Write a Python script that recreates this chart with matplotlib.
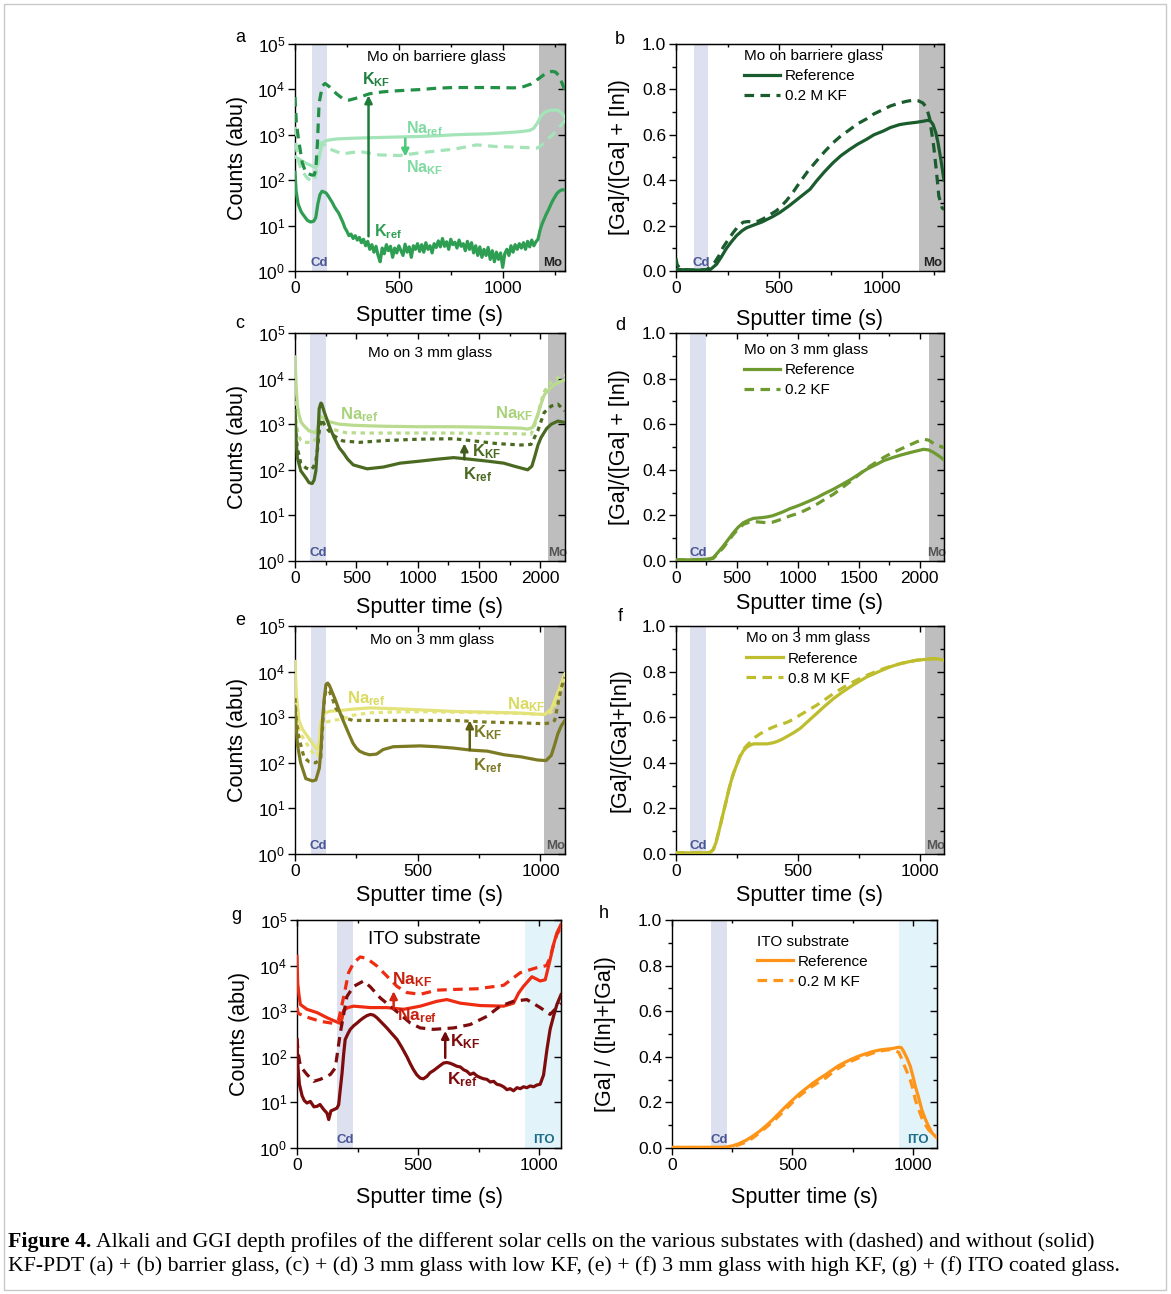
import numpy as np
import matplotlib
matplotlib.use('Agg')
import matplotlib.pyplot as plt
from matplotlib.ticker import MultipleLocator, LogLocator, NullLocator, NullFormatter, LogFormatterMathtext, FormatStrFormatter
from matplotlib.lines import Line2D
from matplotlib.patches import Rectangle
import matplotlib.transforms as mtransforms

plt.rcParams['font.family'] = ['Liberation Sans', 'DejaVu Sans']
plt.rcParams['mathtext.fontset'] = 'custom'
plt.rcParams['mathtext.rm'] = 'Liberation Sans'
plt.rcParams['mathtext.bf'] = 'Liberation Sans:bold'
plt.rcParams['mathtext.it'] = 'Liberation Sans:italic'
plt.rcParams['mathtext.default'] = 'regular'

# ---------------- data: panel a (Mo on barrier glass, SIMS) ----------------
a_t_kkf = [0, 6, 16, 35, 53, 80, 92, 100, 108, 116, 132, 145, 165, 200, 229, 260, 300, 358, 420, 471, 540, 600, 680, 762, 840, 924, 1000, 1053, 1100, 1134, 1160, 1182, 1210, 1238, 1255, 1271, 1285, 1300]
a_kkf = [6800, 2000, 850, 240, 145, 130, 130, 170, 650, 5000, 12000, 13500, 11500, 8000, 6300, 5800, 6500, 8000, 8800, 9200, 9600, 9900, 10600, 11000, 11000, 11000, 10900, 10800, 11500, 13000, 15500, 18500, 23000, 25000, 24000, 20000, 14000, 9500]
a_t_naref = [0, 20, 50, 84, 100, 110, 120, 132, 150, 200, 278, 350, 439, 520, 600, 700, 762, 850, 924, 1000, 1085, 1130, 1150, 1170, 1182, 1200, 1231, 1264, 1285, 1300]
a_naref = [330, 290, 240, 203, 190, 220, 400, 660, 750, 810, 840, 860, 880, 900, 920, 960, 1000, 1030, 1050, 1100, 1170, 1250, 1400, 1900, 2500, 3100, 3500, 3500, 3000, 2400]
a_t_nakf = [0, 5, 15, 30, 60, 84, 95, 105, 115, 124, 140, 170, 229, 310, 407, 504, 600, 700, 762, 875, 972, 1085, 1166, 1190, 1214, 1240, 1264, 1285, 1300]
a_nakf = [1500, 600, 280, 170, 110, 95, 100, 180, 450, 660, 600, 480, 380, 430, 360, 350, 400, 450, 480, 600, 550, 530, 510, 600, 780, 1000, 1300, 1700, 2100]
a_t_kref = [0, 5, 15, 30, 45, 60, 75, 90, 100, 110, 120, 130, 140, 150, 160, 170, 180, 190, 200, 210, 220, 230, 240, 250,
            260, 270, 280, 290, 300, 310, 320, 330, 340, 350, 360, 370, 380, 390, 400, 410, 420, 430, 440, 450, 460, 470,
            480, 490, 500, 510, 520, 530, 540, 550, 560, 570, 580, 590, 600, 610, 620, 630, 640, 650, 660, 670, 680, 690,
            700, 710, 720, 730, 740, 750, 760, 770, 780, 790, 800, 810, 820, 830, 840, 850, 860, 870, 880, 890, 900, 910,
            920, 930, 940, 950, 960, 970, 980, 990, 1000, 1010, 1020, 1030, 1040, 1050, 1060, 1070, 1080, 1090, 1100, 1110,
            1120, 1130, 1140, 1150, 1160, 1170, 1180, 1190, 1200, 1210, 1220, 1230, 1240, 1250, 1260, 1270, 1280, 1290, 1300]
a_kref = [150, 60, 30, 20, 16, 13, 12, 12.5, 15, 30, 48, 57, 55, 52, 45, 38, 32, 26, 22, 19, 15, 12, 9, 7.5,
          6.0, 6.5, 5.2, 6.0, 4.8, 5.5, 4.2, 5.0, 3.6, 4.5, 3.0, 3.8, 2.6, 3.5, 2.2, 1.6, 3.2, 2.4, 3.8, 2.8, 3.5, 2.0,
          3.2, 2.5, 3.6, 2.8, 2.2, 3.9, 2.6, 3.4, 2.0, 3.6, 3.0, 4.0, 2.7, 3.8, 2.6, 4.2, 3.0, 3.6, 2.5, 4.0, 3.3, 4.6,
          3.4, 5.2, 3.5, 4.4, 3.0, 5.0, 3.8, 4.3, 3.2, 4.8, 3.5, 4.0, 2.8, 4.5, 3.0, 4.2, 2.5, 3.6, 2.2, 3.4, 2.0, 3.0,
          2.2, 3.3, 1.8, 2.8, 1.6, 2.6, 1.8, 2.5, 1.2, 2.4, 3.0, 2.2, 3.6, 2.6, 3.8, 3.0, 4.0, 3.2, 4.2, 3.0,
          4.5, 3.4, 4.8, 3.6, 4.4, 5.0, 8, 11, 14, 18, 22, 28, 35, 42, 50, 56, 60, 62, 60]

# ---------------- panel b (GGI, barrier glass) ----------------
b_t_ref = [0, 50, 100, 165, 197, 220, 245, 270, 294, 320, 342, 370, 391, 420, 439, 470, 504, 550, 600, 650, 682, 720, 762, 800, 843, 880, 924, 960, 1004, 1040, 1085, 1120, 1166, 1200, 1222, 1235, 1247, 1260, 1271, 1285, 1300]
b_ref = [0.007, 0.005, 0.004, 0.005, 0.03, 0.062, 0.10, 0.13, 0.156, 0.177, 0.19, 0.2, 0.207, 0.217, 0.226, 0.24, 0.258, 0.288, 0.324, 0.36, 0.397, 0.437, 0.477, 0.508, 0.536, 0.558, 0.58, 0.6, 0.616, 0.632, 0.645, 0.65, 0.655, 0.66, 0.664, 0.66, 0.645, 0.61, 0.565, 0.49, 0.40]
b_t_kf = [0, 5, 15, 30, 60, 100, 150, 189, 210, 229, 255, 278, 300, 326, 350, 375, 400, 423, 450, 488, 510, 536, 570, 600, 640, 682, 720, 762, 800, 843, 880, 924, 960, 1004, 1040, 1085, 1120, 1150, 1175, 1198, 1215, 1230, 1250, 1262, 1275, 1290, 1300]
b_kf = [0.055, 0.03, 0.015, 0.008, 0.005, 0.004, 0.006, 0.04, 0.07, 0.105, 0.14, 0.17, 0.195, 0.215, 0.218, 0.215, 0.22, 0.23, 0.245, 0.266, 0.285, 0.31, 0.35, 0.39, 0.44, 0.485, 0.525, 0.565, 0.595, 0.623, 0.648, 0.67, 0.692, 0.711, 0.727, 0.74, 0.748, 0.752, 0.75, 0.74, 0.72, 0.674, 0.55, 0.45, 0.33, 0.28, 0.27]

# ---------------- panel c (Mo on 3 mm glass, low KF, SIMS) ----------------
c_t_naref = [0, 10, 19, 33, 50, 74, 115, 170, 190, 205, 225, 280, 362, 471, 608, 745, 1019, 1293, 1567, 1841, 1896, 1937, 1978, 2005, 2033, 2088, 2115, 2160, 2200]
c_naref = [30000, 6300, 2600, 1600, 1100, 920, 710, 650, 900, 1500, 1400, 1130, 1000, 950, 920, 900, 880, 880, 860, 820, 780, 850, 1600, 2800, 4500, 6500, 7500, 8500, 9500]
c_t_nakf = [0, 10, 25, 45, 74, 142, 183, 200, 211, 252, 307, 416, 600, 900, 1200, 1500, 1800, 1923, 1964, 2000, 2033, 2088, 2115, 2160, 2200]
c_nakf = [3200, 1200, 600, 450, 400, 400, 510, 800, 1000, 1100, 770, 650, 640, 640, 640, 630, 620, 600, 1150, 2800, 5300, 8500, 9500, 11000, 12000]
c_t_kref = [0, 8, 19, 47, 88, 115, 140, 156, 170, 185, 197, 211, 218, 240, 280, 320, 362, 394, 430, 475, 588, 720, 857, 1019, 1150, 1293, 1430, 1567, 1700, 1786, 1896, 1930, 1951, 1980, 2005, 2050, 2088, 2142, 2200]
c_kref = [2000, 500, 185, 95, 67, 52, 50, 60, 95, 400, 2200, 2900, 2800, 1800, 900, 500, 300, 235, 170, 128, 105, 115, 140, 155, 170, 185, 170, 155, 140, 120, 100, 120, 185, 350, 510, 800, 1000, 1170, 1090]
c_t_kkf = [0, 8, 19, 47, 88, 129, 150, 170, 185, 197, 215, 238, 270, 307, 389, 526, 745, 1019, 1293, 1458, 1649, 1841, 1923, 1978, 2030, 2088, 2142, 2200]
c_kkf = [1600, 600, 300, 140, 110, 100, 115, 155, 300, 700, 1300, 1000, 750, 580, 430, 400, 440, 470, 480, 430, 375, 350, 360, 715, 1800, 2500, 2750, 1950]

# ---------------- panel d (GGI, 3 mm glass, low KF) ----------------
d_t = [0, 100, 200, 252, 280, 307, 340, 389, 430, 471, 510, 553, 600, 636, 700, 745, 790, 827, 880, 937, 980, 1019, 1090, 1156, 1220, 1293, 1360, 1430, 1500, 1567, 1640, 1704, 1770, 1841, 1910, 1978, 2033, 2075, 2115, 2160, 2200]
d_ref = [0.005, 0.005, 0.006, 0.008, 0.01, 0.015, 0.035, 0.066, 0.095, 0.124, 0.148, 0.168, 0.18, 0.187, 0.19, 0.193, 0.198, 0.205, 0.216, 0.23, 0.238, 0.246, 0.262, 0.278, 0.296, 0.315, 0.335, 0.356, 0.38, 0.403, 0.422, 0.44, 0.452, 0.464, 0.474, 0.483, 0.49, 0.487, 0.476, 0.46, 0.444]
d_kf = [0.005, 0.005, 0.005, 0.006, 0.008, 0.012, 0.03, 0.059, 0.088, 0.117, 0.14, 0.161, 0.17, 0.173, 0.17, 0.168, 0.17, 0.176, 0.186, 0.198, 0.205, 0.212, 0.23, 0.249, 0.27, 0.293, 0.32, 0.348, 0.378, 0.407, 0.432, 0.454, 0.473, 0.49, 0.507, 0.523, 0.534, 0.53, 0.515, 0.505, 0.498]

# ---------------- panel e (Mo on 3 mm glass, high KF, SIMS) ----------------
e_t_naref = [0, 5, 16, 30, 44, 71, 92, 99, 105, 119, 140, 181, 236, 304, 373, 510, 647, 784, 921, 1016, 1044, 1071, 1100]
e_naref = [16700, 3300, 850, 550, 430, 270, 190, 300, 790, 1200, 1350, 1400, 1500, 1600, 1560, 1450, 1340, 1290, 1230, 1140, 1500, 3500, 9000]
e_t_nakf = [0, 5, 16, 44, 78, 92, 105, 126, 153, 194, 236, 304, 400, 510, 700, 900, 1016, 1044, 1071, 1100]
e_nakf = [3700, 1200, 490, 280, 150, 140, 430, 770, 860, 900, 1100, 1250, 1300, 1320, 1280, 1220, 1150, 1300, 2500, 7000]
e_t_kref = [0, 5, 10, 23, 44, 71, 85, 99, 106, 112, 119, 126, 133, 140, 153, 167, 181, 194, 208, 222, 236, 250, 263, 284, 304, 332, 359, 400, 455, 510, 578, 647, 715, 784, 852, 921, 989, 1023, 1044, 1058, 1071, 1085, 1100]
e_kref = [1700, 600, 250, 100, 45, 40, 42, 76, 200, 850, 2500, 5200, 5600, 5000, 3400, 2200, 1350, 900, 600, 400, 270, 210, 180, 160, 150, 155, 195, 225, 230, 235, 225, 210, 190, 180, 150, 135, 115, 112, 145, 250, 435, 650, 850]
e_t_kkf = [0, 5, 16, 37, 58, 85, 105, 112, 119, 126, 140, 153, 167, 194, 236, 304, 373, 510, 647, 784, 921, 1016, 1044, 1058, 1071, 1085, 1100]
e_kkf = [2600, 900, 350, 130, 105, 100, 130, 600, 2200, 4000, 3700, 2500, 1550, 1000, 850, 850, 850, 850, 850, 780, 750, 720, 760, 850, 1900, 4500, 7500]

# ---------------- panel f (GGI, 3 mm glass, high KF) ----------------
f_t = [0, 60, 120, 140, 153, 164, 174, 184, 194, 205, 215, 225, 236, 250, 263, 276, 290, 304, 318, 345, 373, 395, 414, 435, 455, 480, 510, 545, 578, 612, 647, 680, 715, 750, 784, 820, 852, 885, 921, 955, 989, 1030, 1058, 1080, 1100]
f_ref = [0.005, 0.005, 0.005, 0.007, 0.019, 0.05, 0.092, 0.135, 0.18, 0.228, 0.274, 0.315, 0.354, 0.393, 0.427, 0.452, 0.468, 0.477, 0.483, 0.483, 0.483, 0.487, 0.493, 0.503, 0.515, 0.53, 0.551, 0.585, 0.617, 0.65, 0.682, 0.708, 0.733, 0.756, 0.777, 0.794, 0.809, 0.823, 0.835, 0.843, 0.85, 0.854, 0.857, 0.855, 0.85]
f_kf = [0.005, 0.005, 0.005, 0.007, 0.019, 0.05, 0.092, 0.135, 0.18, 0.228, 0.274, 0.315, 0.354, 0.393, 0.43, 0.458, 0.475, 0.49, 0.507, 0.527, 0.544, 0.555, 0.563, 0.57, 0.577, 0.59, 0.61, 0.632, 0.653, 0.678, 0.704, 0.726, 0.748, 0.767, 0.784, 0.8, 0.813, 0.825, 0.835, 0.843, 0.85, 0.854, 0.857, 0.855, 0.85]

# ---------------- panel g (ITO substrate, SIMS) ----------------
g_t_naref = [0, 3, 8, 14, 41, 83, 124, 158, 179, 186, 193, 210, 234, 303, 371, 440, 509, 578, 619, 674, 757, 853, 894, 915, 935, 970, 1004, 1025, 1045, 1060, 1073, 1090]
g_naref = [16000, 4000, 2300, 1400, 1100, 930, 720, 600, 540, 700, 1050, 1200, 1290, 1200, 1200, 1100, 1290, 1650, 1800, 1500, 1330, 1290, 1500, 2500, 3500, 5700, 4600, 4900, 13500, 30000, 52000, 80000]
g_t_nakf = [0, 5, 28, 96, 151, 172, 193, 213, 234, 261, 289, 330, 371, 413, 454, 509, 578, 647, 743, 853, 922, 990, 1030, 1045, 1060, 1073, 1090]
g_nakf = [1200, 900, 780, 600, 540, 650, 2100, 7000, 11500, 15500, 14300, 9800, 5900, 3500, 2560, 2350, 2900, 3000, 3100, 3700, 7000, 9000, 10000, 15000, 30000, 48000, 70000]
g_t_kkf = [0, 5, 14, 41, 69, 96, 138, 158, 179, 206, 234, 275, 303, 344, 385, 426, 468, 509, 564, 647, 715, 784, 839, 894, 949, 1004, 1045, 1090]
g_kkf = [250, 120, 62, 41, 29, 32, 41, 57, 340, 2100, 3500, 4600, 3400, 1950, 1290, 850, 550, 430, 400, 430, 510, 770, 1290, 1650, 1800, 1200, 850, 1500]
g_t_kref = [0, 4, 10, 21, 30, 41, 55, 70, 83, 95, 110, 124, 131, 140, 151, 165, 172, 179, 186, 193, 199, 210, 220, 234, 248, 262, 275, 289, 303, 316, 330, 350, 371, 392, 413, 433, 454, 468, 481, 495, 509, 522, 536, 550, 564, 578, 592, 605, 619, 633, 647, 660, 674, 688, 702, 715, 729, 743, 757, 770, 784, 798, 812, 825, 839, 853, 867, 880, 894, 908, 922, 935, 949, 963, 977, 990, 1004, 1018, 1032, 1045, 1059, 1073, 1090]
g_kref = [240, 60, 25, 14, 11, 9.7, 10.5, 8, 8.2, 9, 7, 5.8, 4.2, 6.5, 6.9, 7.5, 8.9, 20, 44, 120, 240, 320, 400, 480, 550, 640, 720, 800, 850, 820, 720, 560, 430, 320, 240, 160, 100, 70, 52, 40, 34, 33, 37, 45, 50, 57, 65, 73, 75, 72, 67, 62, 60, 52, 48, 41, 44, 38, 35, 33, 32, 28, 29, 25, 24, 22, 19, 20, 18, 21, 20, 22, 21, 23, 22, 24, 25, 40, 145, 400, 770, 1400, 2300]

# ---------------- panel h (GGI, ITO substrate) ----------------
h_t = [0, 100, 200, 225, 253, 280, 308, 335, 363, 390, 418, 445, 473, 500, 528, 555, 583, 610, 638, 665, 693, 720, 748, 775, 803, 830, 858, 885, 913, 941, 952, 961, 975, 989, 1000, 1010, 1024, 1037, 1051, 1065, 1080, 1100]
h_ref = [0.003, 0.003, 0.003, 0.004, 0.01, 0.02, 0.034, 0.052, 0.073, 0.097, 0.124, 0.153, 0.183, 0.21, 0.237, 0.26, 0.283, 0.303, 0.322, 0.342, 0.362, 0.377, 0.391, 0.403, 0.413, 0.422, 0.429, 0.433, 0.436, 0.442, 0.44, 0.425, 0.395, 0.359, 0.315, 0.271, 0.22, 0.168, 0.128, 0.095, 0.065, 0.044]
h_kf = [0.002, 0.002, 0.002, 0.002, 0.006, 0.015, 0.026, 0.044, 0.066, 0.09, 0.114, 0.142, 0.171, 0.2, 0.227, 0.25, 0.271, 0.29, 0.307, 0.33, 0.351, 0.368, 0.383, 0.395, 0.405, 0.415, 0.424, 0.429, 0.432, 0.42, 0.395, 0.37, 0.335, 0.298, 0.26, 0.212, 0.17, 0.132, 0.104, 0.08, 0.065, 0.059]

# ---------------- shaded regions [x0, x1] ----------------
cd_bands = {'a': [80, 152], 'b': [88, 155], 'c': [122, 253], 'd': [115, 245], 'e': [65, 126], 'f': [57, 123], 'g': [167, 233], 'h': [162, 228]}
back_bands = {'a': [1173, 1300], 'b': [1180, 1300], 'c': [2065, 2200], 'd': [2074, 2200], 'e': [1016, 1100], 'f': [1020, 1100], 'g': [942, 1100], 'h': [942, 1100]}
back_names = {'a': 'Mo', 'b': 'Mo', 'c': 'Mo', 'd': 'Mo', 'e': 'Mo', 'f': 'Mo', 'g': 'ITO', 'h': 'ITO'}

W, H = 1171, 1294
fig = plt.figure(figsize=(W / 100, H / 100), dpi=100)

def add_ax(l, t, r, b):
    return fig.add_axes([l / W, 1 - b / H, (r - l) / W, (b - t) / H])

CD_COL = '#DDE0EE'
MO_COL = '#BEBEBE'
ITO_COL = '#E2F3FA'
LW = 2.3

def style(ax, log, xmax, xmaj, xminor):
    ax.set_xlim(0, xmax)
    if log:
        ax.set_yscale('log')
        ax.set_ylim(1, 1e5)
        ax.yaxis.set_major_locator(LogLocator(base=10, numticks=10))
        ax.yaxis.set_minor_locator(NullLocator())
        ax.yaxis.set_major_formatter(LogFormatterMathtext())
    else:
        ax.set_ylim(0, 1)
        ax.yaxis.set_major_locator(MultipleLocator(0.2))
        ax.yaxis.set_minor_locator(MultipleLocator(0.1))
        ax.yaxis.set_major_formatter(FormatStrFormatter('%.1f'))
    ax.xaxis.set_major_locator(MultipleLocator(xmaj))
    ax.xaxis.set_minor_locator(MultipleLocator(xminor))
    ax.tick_params(which='major', direction='out', length=5, width=1, labelsize=12.5, pad=2)
    ax.tick_params(which='minor', direction='out', length=3, width=1)
    for s in ax.spines.values():
        s.set_linewidth(1.0)
    sx = ax.secondary_xaxis('top')
    sx.xaxis.set_major_locator(MultipleLocator(xmaj))
    sx.xaxis.set_minor_locator(MultipleLocator(xminor))
    sx.xaxis.set_major_formatter(NullFormatter())
    sx.tick_params(which='major', direction='in', length=4, width=1)
    sx.tick_params(which='minor', direction='in', length=2.5, width=1)
    sy = ax.secondary_yaxis('right')
    if log:
        sy.yaxis.set_major_locator(LogLocator(base=10, numticks=10))
        sy.yaxis.set_minor_locator(NullLocator())
    else:
        sy.yaxis.set_major_locator(MultipleLocator(0.2))
        sy.yaxis.set_minor_locator(MultipleLocator(0.1))
    sy.yaxis.set_major_formatter(NullFormatter())
    sy.tick_params(which='major', direction='in', length=5, width=1)
    sy.tick_params(which='minor', direction='in', length=3, width=1)

def bands(ax, key):
    x0, x1 = cd_bands[key]
    ax.axvspan(x0, x1, color=CD_COL, lw=0, zorder=0)
    b0, b1 = back_bands[key]
    name = back_names[key]
    ax.axvspan(b0, b1, color=(MO_COL if name == 'Mo' else ITO_COL), lw=0, zorder=0)
    tr = mtransforms.blended_transform_factory(ax.transData, ax.transAxes)
    ax.text((x0 + x1) / 2, 0.008, 'Cd', transform=tr, ha='center', va='bottom', fontsize=9.5, fontweight='bold', color='#4A5796', zorder=1)
    col = '#222222' if name == 'Mo' else '#1F6E87'
    if key in ('c', 'd', 'e', 'f'):
        col = '#555555'
    ax.text((b0 + b1) / 2 + (4 if name == 'Mo' else 0), 0.008, name, transform=tr, ha='center', va='bottom', fontsize=9.5, fontweight='bold', color=col, zorder=1)

def labels(ax, ylab, ylab_x, xlab_y, panel, top_px, left_px, right_px, bottom_px, letter_xy):
    ax.set_ylabel(ylab, fontsize=15.5, va='center')
    ax.set_xlabel('Sputter time (s)', fontsize=15.5, va='center')
    wpx = right_px - left_px
    hpx = bottom_px - top_px
    ax.yaxis.set_label_coords((ylab_x - left_px) / wpx, 0.5)
    ax.xaxis.set_label_coords(0.5, (bottom_px - xlab_y) / hpx)
    fig.text(letter_xy[0] / W, 1 - letter_xy[1] / H, panel, fontsize=13, ha='center', va='center')

def arrow(ax, x, y0, y1, color):
    ax.annotate('', xy=(x, y1), xytext=(x, y0),
                arrowprops=dict(arrowstyle='-|>', color=color, lw=1.8, mutation_scale=11, shrinkA=0, shrinkB=0), zorder=5)

def tag(ax, x, y, main, sub, color, size=11.5):
    ax.text(x, y, r'$\mathbf{%s_{%s}}$' % (main, sub), color=color, fontsize=size, ha='center', va='center', zorder=6)

def legend(ax, color, title, kf_label, anchor, dash):
    h = [Line2D([], [], color=color, lw=LW, ls='-'),
         Line2D([], [], color=color, lw=LW, ls=(0, dash))]
    leg = ax.legend(h, ['Reference', kf_label], title=title, loc='upper left', bbox_to_anchor=anchor,
                    frameon=False, fontsize=11, title_fontsize=11, handlelength=2.4, handletextpad=0.3,
                    labelspacing=0.4, borderpad=0, borderaxespad=0, alignment='left')
    return leg

DASH_L = (3, 2)
DASH_S = (1.4, 1.4)

# ===== panel a =====
ax = add_ax(295, 44, 565, 271)
style(ax, True, 1300, 500, 250)
bands(ax, 'a')
kc, kd, nac = '#2E9E52', '#239047', '#A3E4B8'
ax.plot(a_t_naref, a_naref, color=nac, lw=LW, zorder=3)
ax.plot(a_t_nakf, a_nakf, color=nac, lw=LW, ls=(0, DASH_L), zorder=3)
ax.plot(a_t_kref, a_kref, color=kc, lw=LW, zorder=3)
ax.plot(a_t_kkf, a_kkf, color=kd, lw=LW, ls=(0, DASH_L), zorder=3)
arrow(ax, 354, 5.8, 7400, '#1E7B3A')
arrow(ax, 531, 820, 330, '#4CC97A')
tag(ax, 390, 16000, 'K', 'KF', '#1F8040')
tag(ax, 625, 1350, 'Na', 'ref', '#7FD9A0')
tag(ax, 625, 190, 'Na', 'KF', '#7FD9A0')
tag(ax, 447, 7.5, 'K', 'ref', '#2E9E52')
ax.text(680, 53000, 'Mo on barriere glass', fontsize=11, ha='center', va='center')
labels(ax, 'Counts (abu)', 237, 316, 'a', 44, 295, 565, 271, (240, 38))

# ===== panel b =====
ax = add_ax(676, 44, 944, 271)
style(ax, False, 1300, 500, 250)
bands(ax, 'b')
bc = '#1B5C2E'
ax.plot(b_t_ref, b_ref, color=bc, lw=LW, zorder=3)
ax.plot(b_t_kf, b_kf, color=bc, lw=LW, ls=(0, DASH_L), zorder=3)
legend(ax, bc, 'Mo on barriere glass', '0.2 M KF', (0.253, 0.977), DASH_L)
labels(ax, '[Ga]/([Ga] + [In])', 620, 320, 'b', 44, 676, 944, 271, (620, 40))

# ===== panel c =====
ax = add_ax(295, 333, 565, 561)
style(ax, True, 2200, 500, 250)
bands(ax, 'c')
nac, kc = '#B9DB8E', '#4A6A22'
ax.plot(c_t_naref, c_naref, color=nac, lw=LW, zorder=3)
ax.plot(c_t_nakf, c_nakf, color=nac, lw=LW, ls=(0, DASH_S), zorder=3)
ax.plot(c_t_kref, c_kref, color=kc, lw=LW, zorder=3)
ax.plot(c_t_kkf, c_kkf, color=kc, lw=LW, ls=(0, DASH_S), zorder=3)
arrow(ax, 1380, 170, 380, '#3F5C1C')
tag(ax, 526, 1650, 'Na', 'ref', '#A9D27A', 12)
tag(ax, 1786, 1700, 'Na', 'KF', '#A9D27A', 12)
tag(ax, 1560, 250, 'K', 'KF', kc, 12)
tag(ax, 1490, 80, 'K', 'ref', kc, 12)
ax.text(1100, 37000, 'Mo on 3 mm glass', fontsize=11, ha='center', va='center')
labels(ax, 'Counts (abu)', 237, 607, 'c', 333, 295, 565, 561, (240, 323))

# ===== panel d =====
ax = add_ax(676, 333, 944, 561)
style(ax, False, 2200, 500, 250)
bands(ax, 'd')
dc = '#6E9A30'
ax.plot(d_t, d_ref, color=dc, lw=LW, zorder=3)
ax.plot(d_t, d_kf, color=dc, lw=LW, ls=(0, DASH_L), zorder=3)
legend(ax, dc, 'Mo on 3 mm glass', '0.2 KF', (0.253, 0.957), DASH_L)
labels(ax, '[Ga]/([Ga] + [In])', 620, 604, 'd', 333, 676, 944, 561, (620, 326))

# ===== panel e =====
ax = add_ax(295, 626, 565, 854)
style(ax, True, 1100, 500, 250)
bands(ax, 'e')
nac, kc = '#E3E37A', '#7C7A22'
ax.plot(e_t_naref, e_naref, color=nac, lw=LW, zorder=3)
ax.plot(e_t_nakf, e_nakf, color=nac, lw=LW, ls=(0, DASH_S), zorder=3)
ax.plot(e_t_kref, e_kref, color=kc, lw=LW, zorder=3)
ax.plot(e_t_kkf, e_kkf, color=kc, lw=LW, ls=(0, DASH_S), zorder=3)
arrow(ax, 712, 190, 850, '#5E5E14')
tag(ax, 290, 2600, 'Na', 'ref', '#DADA60', 12)
tag(ax, 941, 1900, 'Na', 'KF', '#DADA60', 12)
tag(ax, 784, 450, 'K', 'KF', kc, 12)
tag(ax, 784, 85, 'K', 'ref', kc, 12)
ax.text(557, 49000, 'Mo on 3 mm glass', fontsize=11, ha='center', va='center')
labels(ax, 'Counts (abu)', 237, 895, 'e', 626, 295, 565, 854, (240, 620))

# ===== panel f =====
ax = add_ax(676, 626, 944, 854)
style(ax, False, 1100, 500, 250)
bands(ax, 'f')
fc = '#BDBD2E'
ax.plot(f_t, f_ref, color=fc, lw=LW, zorder=3)
ax.plot(f_t, f_kf, color=fc, lw=LW, ls=(0, DASH_L), zorder=3)
legend(ax, fc, 'Mo on 3 mm glass', '0.8 M KF', (0.263, 0.976), DASH_L)
labels(ax, '[Ga]/([Ga]+[In])', 620, 895, 'f', 626, 676, 944, 854, (620, 617))

# ===== panel g =====
ax = add_ax(297, 920, 561, 1148)
style(ax, True, 1090, 500, 250)
bands(ax, 'g')
nac, kc = '#EE2C12', '#7E0C0C'
ax.plot(g_t_naref, g_naref, color=nac, lw=LW, zorder=3)
ax.plot(g_t_nakf, g_nakf, color=nac, lw=LW, ls=(0, DASH_L), zorder=3)
ax.plot(g_t_kref, g_kref, color=kc, lw=LW, zorder=3)
ax.plot(g_t_kkf, g_kkf, color=kc, lw=LW, ls=(0, DASH_L), zorder=3)
arrow(ax, 399, 1100, 2750, '#D42410')
arrow(ax, 612, 95, 370, '#6E0A0A')
tag(ax, 475, 5000, 'Na', 'KF', '#C8200E', 12.5)
tag(ax, 495, 780, 'Na', 'ref', '#C8200E', 12.5)
tag(ax, 695, 220, 'K', 'KF', kc, 12.5)
tag(ax, 680, 32, 'K', 'ref', kc, 12.5)
ax.text(525, 37000, 'ITO substrate', fontsize=13.5, ha='center', va='center')
labels(ax, 'Counts (abu)', 239, 1198, 'g', 920, 297, 561, 1148, (236, 915))

# ===== panel h =====
ax = add_ax(672, 920, 937, 1148)
style(ax, False, 1100, 500, 250)
bands(ax, 'h')
hc = '#FF9518'
ax.plot(h_t, h_ref, color=hc, lw=LW, zorder=3)
ax.plot(h_t, h_kf, color=hc, lw=LW, ls=(0, DASH_L), zorder=3)
legend(ax, hc, 'ITO substrate', '0.2 M KF', (0.32, 0.936), DASH_L)
labels(ax, '[Ga] / ([In]+[Ga])', 606, 1198, 'h', 920, 672, 937, 1148, (604, 913))

# ===== caption and frame =====
fig.patches.append(Rectangle((4 / W, 4 / H), 1 - 9 / W, 1 - 8 / H, transform=fig.transFigure,
                             fill=False, edgecolor='#c8c8c8', lw=1.0))
serif = ['Liberation Serif', 'DejaVu Serif']
renderer = fig.canvas.get_renderer()
t1 = fig.text(8 / W, 1 - 1247 / H, 'Figure 4.', fontsize=15.7, fontweight='bold', family=serif, va='baseline')
bb = t1.get_window_extent(renderer=renderer)
fig.text((bb.x1 + 5) / W, 1 - 1247 / H,
         'Alkali and GGI depth profiles of the different solar cells on the various substates with (dashed) and without (solid)',
         fontsize=15.7, family=serif, va='baseline')
fig.text(8 / W, 1 - 1271 / H,
         'KF-PDT (a) + (b) barrier glass, (c) + (d) 3 mm glass with low KF, (e) + (f) 3 mm glass with high KF, (g) + (f) ITO coated glass.',
         fontsize=15.7, family=serif, va='baseline')

fig.savefig('out.png', dpi=100)
